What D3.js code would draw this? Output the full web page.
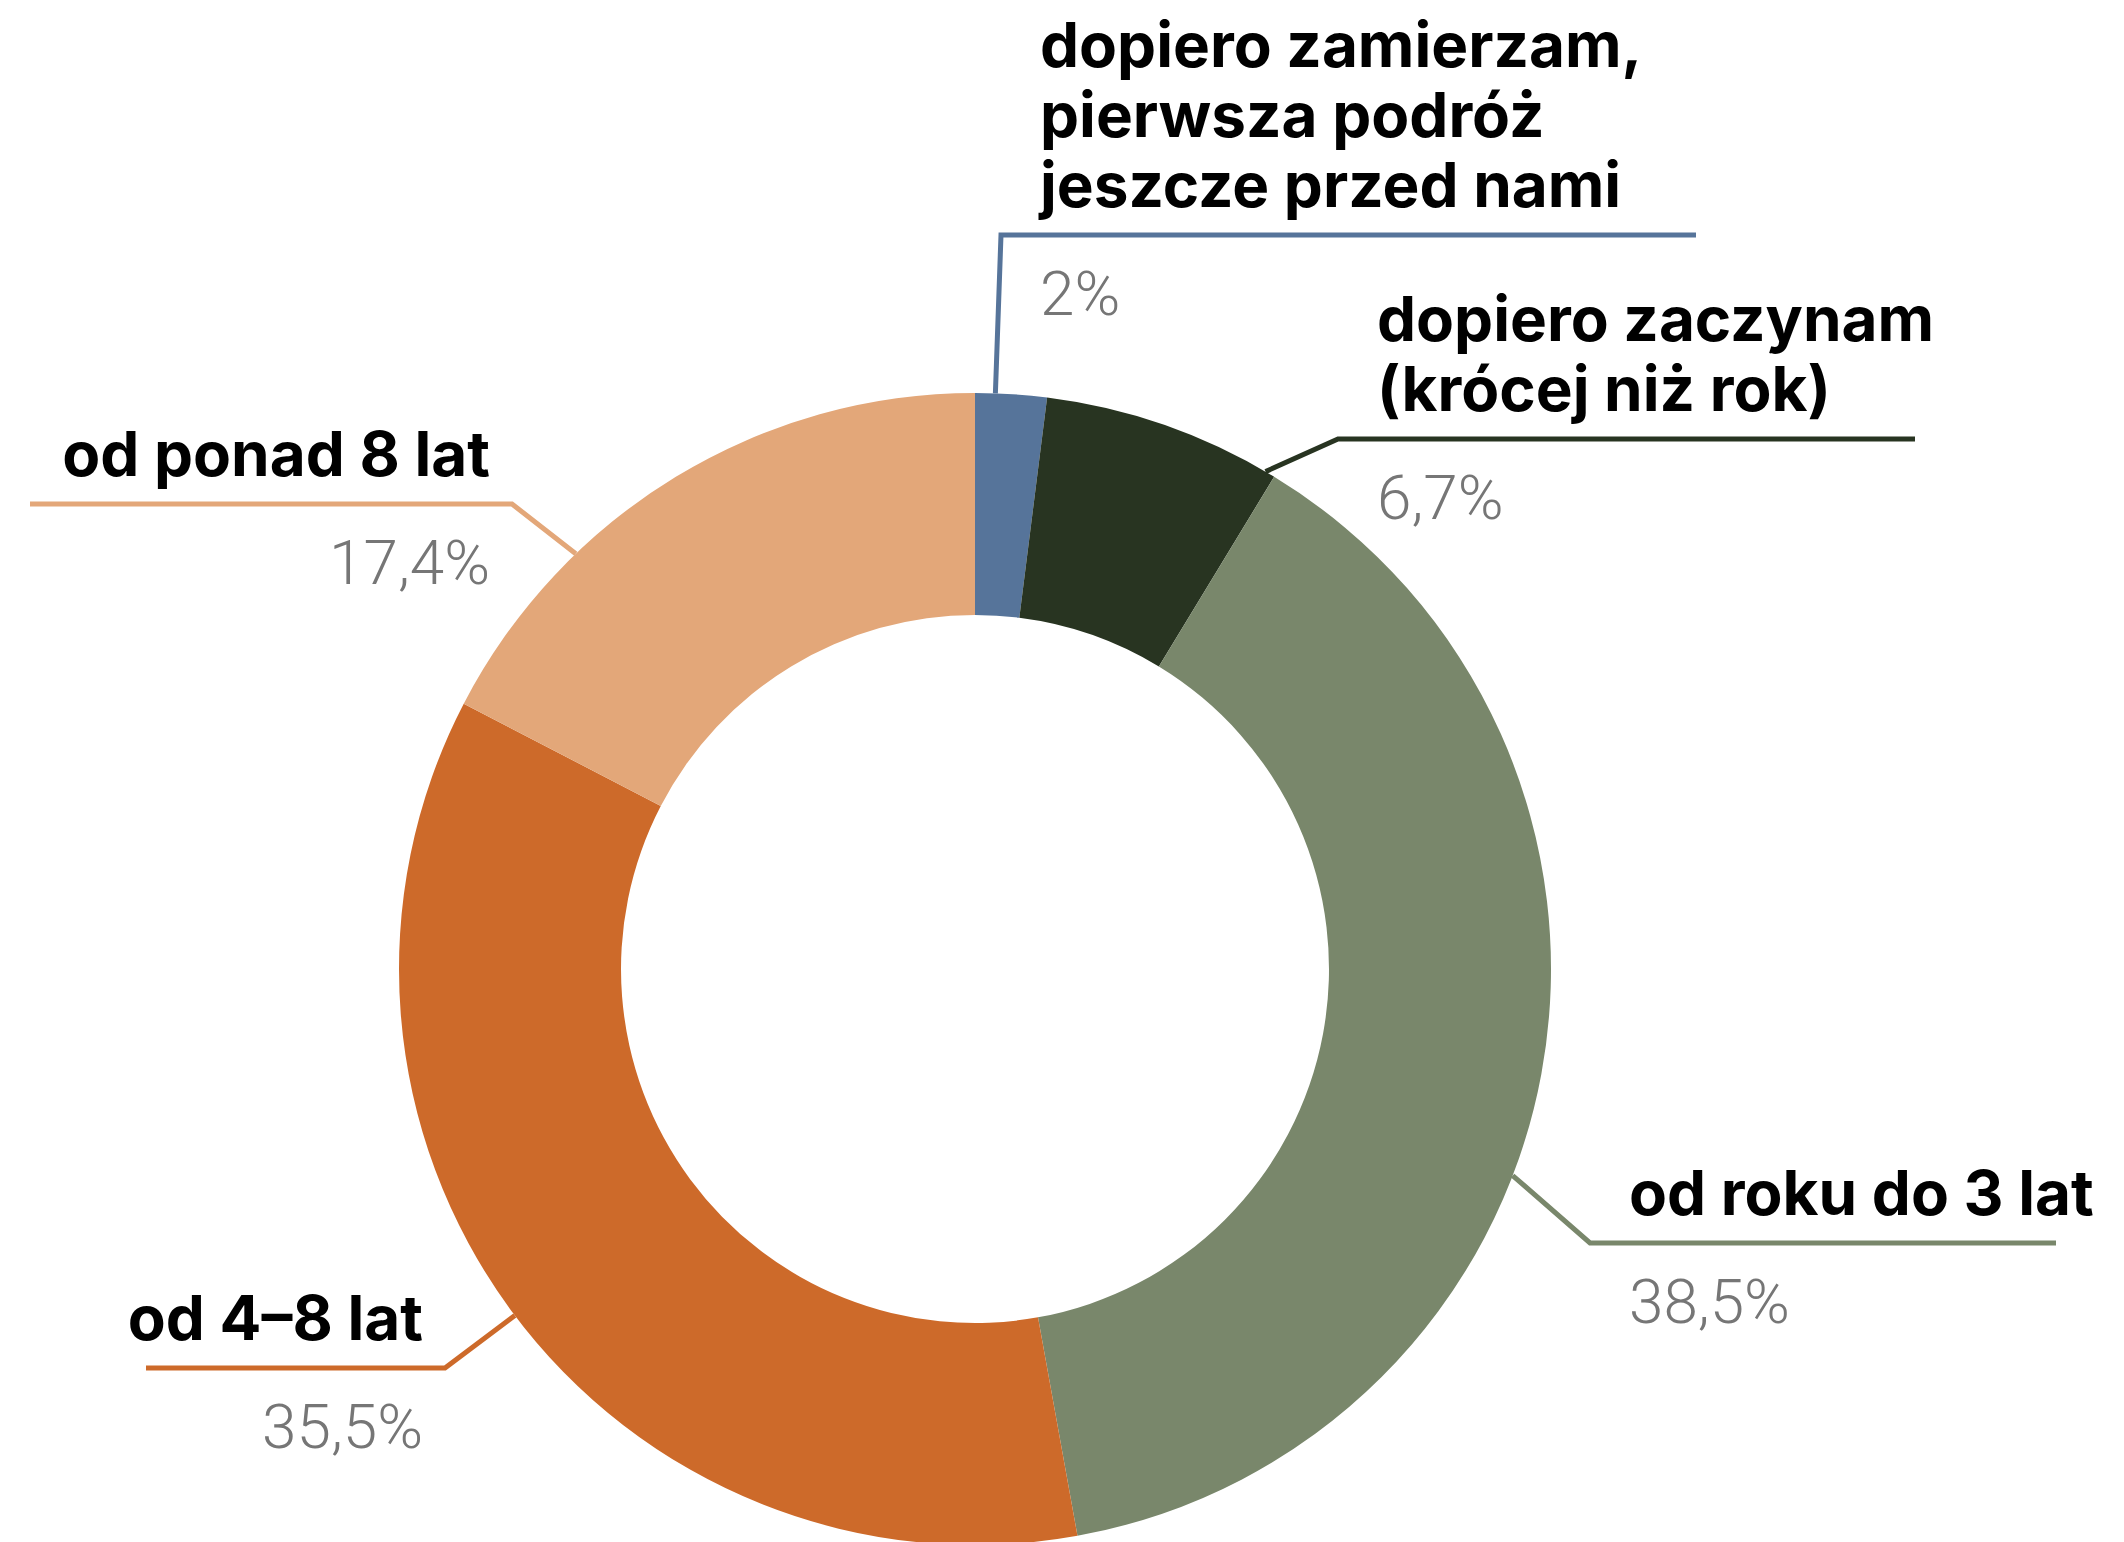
<!DOCTYPE html>
<html>
<head>
<meta charset="utf-8">
<script src="https://cdn.jsdelivr.net/npm/d3@7"></script>
<style>
  html, body { margin: 0; padding: 0; background: #fff; }
  svg { display: block; }
  .title { font-family: "Inter", "Noto Sans", sans-serif; font-weight: 700; fill: #000; }
  .pct { font-family: "Roboto", "Lato", sans-serif; font-weight: 300; fill: #767676; }
</style>
</head>
<body>
<svg id="chart"></svg>
<script>
'use strict';

// data
const labelLines = [
  ["dopiero zamierzam,", "pierwsza podróż", "jeszcze przed nami"],
  ["dopiero zaczynam", "(krócej niż rok)"],
  ["od roku do 3 lat"],
  ["od 4–8 lat"],
  ["od ponad 8 lat"]
];
const values = [2, 6.7, 38.5, 35.5, 17.4];
const pctLabels = ["2%", "6,7%", "38,5%", "35,5%", "17,4%"];
const colors = ["#56749a", "#283421", "#79876b", "#cd6a2a", "#e3a779"];

// label boxes: elbow of the leader line, where its horizontal run ends,
// and a small turn (degrees) of the point where it leaves the ring
const labelLayout = [
  { x: 1001, y: 235, end: 1696, side: 1, shift: 0 },
  { x: 1338, y: 439, end: 1915, side: 1, shift: 0 },
  { x: 1590, y: 1243, end: 2056, side: 1, shift: -3 },
  { x: 445, y: 1368, end: 146, side: -1, shift: 0 },
  { x: 512, y: 504, end: 30, side: -1, shift: 1 }
];

const width = 2124, height = 1542;
const cx = 975, cy = 969;
const outerR = 576, innerR = 354;
const fontSize = 62, lineGap = 70;

const svg = d3.select("#chart")
  .attr("width", width)
  .attr("height", height);

const g = svg.append("g").attr("transform", `translate(${cx}, ${cy})`);

const pie = d3.pie().sort(null).value(d => d);
const arcs = pie(values);

const arc = d3.arc().innerRadius(innerR).outerRadius(outerR);

g.selectAll("path.slice")
  .data(arcs)
  .enter()
  .append("path")
  .attr("class", "slice")
  .attr("d", arc)
  .attr("fill", (d, i) => colors[i]);

// leader lines: start on the outer edge, at the angle of the elbow clamped into the slice
const deg = Math.PI / 180;
function leaderPoints(d, i) {
  const L = labelLayout[i];
  let a = Math.atan2(L.x - cx, -(L.y - cy));
  if (a < 0) a += 2 * Math.PI;
  a += L.shift * deg;
  a = Math.max(d.startAngle + deg, Math.min(d.endAngle - deg, a));
  const sx = cx + outerR * Math.sin(a);
  const sy = cy - outerR * Math.cos(a);
  return [[sx, sy], [L.x, L.y], [L.end, L.y]];
}

svg.selectAll("polyline.leader")
  .data(arcs)
  .enter()
  .append("polyline")
  .attr("class", "leader")
  .attr("points", (d, i) => leaderPoints(d, i).map(p => p.join(",")).join(" "))
  .attr("fill", "none")
  .attr("stroke", (d, i) => colors[i])
  .attr("stroke-width", 5)
  .attr("stroke-linejoin", "miter");

// labels
const labels = svg.selectAll("g.label")
  .data(arcs)
  .enter()
  .append("g")
  .attr("class", "label");

labels.each(function (d, i) {
  const elem = d3.select(this);
  const L = labelLayout[i];
  const tx = L.side > 0 ? L.x + 39 : L.x - 22;
  const anchor = L.side > 0 ? "start" : "end";
  const lines = labelLines[i];

  elem.append("text")
    .attr("class", "title")
    .attr("text-anchor", anchor)
    .style("font-size", fontSize + "px")
    .selectAll("tspan")
    .data(lines)
    .enter()
    .append("tspan")
    .attr("x", tx)
    .attr("y", (t, k) => L.y - 28 - (lines.length - 1 - k) * lineGap)
    .text(t => t);

  elem.append("text")
    .attr("class", "pct")
    .attr("text-anchor", anchor)
    .attr("x", tx)
    .attr("y", L.y + 80)
    .style("font-size", fontSize + "px")
    .text(pctLabels[i]);
});
</script>
</body>
</html>
